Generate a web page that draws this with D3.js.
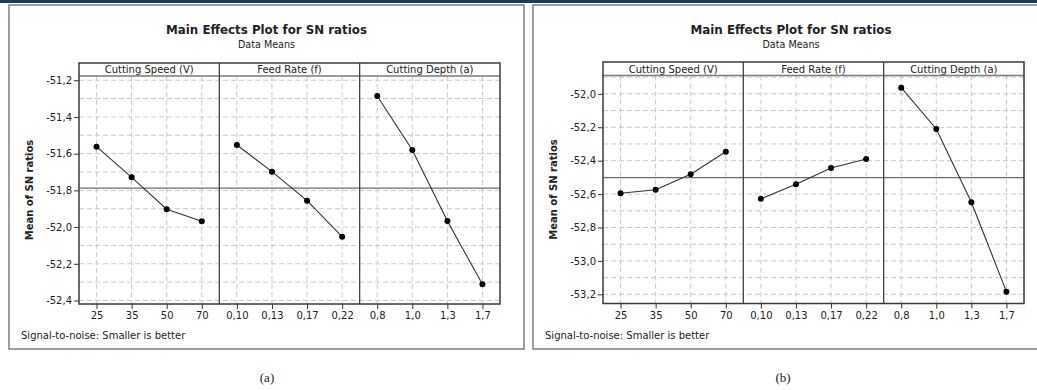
<!DOCTYPE html>
<html><head><meta charset="utf-8">
<script src="https://cdn.jsdelivr.net/npm/d3@7"></script>
<style>
body{margin:0;background:#fff;}
svg{display:block;}
text{font-family:"DejaVu Sans",Verdana,sans-serif;fill:#222;}
</style></head>
<body><svg id="c" width="1037" height="390"></svg>
<script>
// ---------- data ----------
const factors = ["Cutting Speed (V)", "Feed Rate (f)", "Cutting Depth (a)"];
const levelsSpeed = ["25", "35", "50", "70"];
const levelsFeed = ["0,10", "0,13", "0,17", "0,22"];
const levelsDepth = ["0,8", "1,0", "1,3", "1,7"];

// (a)
const snA_speed = [-51.562, -51.729, -51.903, -51.968];
const snA_feed  = [-51.553, -51.698, -51.856, -52.052];
const snA_depth = [-51.286, -51.580, -51.967, -52.312];
const meanA = -51.788;
const yTicksA = [-51.2, -51.4, -51.6, -51.8, -52.0, -52.2, -52.4];
const yGridA  = [-51.2, -51.3, -51.4, -51.5, -51.6, -51.7, -51.8, -51.9, -52.0, -52.1, -52.2, -52.3, -52.4];

// (b)
const snB_speed = [-52.595, -52.574, -52.481, -52.346];
const snB_feed  = [-52.628, -52.541, -52.444, -52.390];
const snB_depth = [-51.963, -52.210, -52.649, -53.184];
const meanB = -52.502;
const yTicksB = [-52.0, -52.2, -52.4, -52.6, -52.8, -53.0, -53.2];
const yGridB  = [-51.9, -52.0, -52.1, -52.2, -52.3, -52.4, -52.5, -52.6, -52.7, -52.8, -52.9, -53.0, -53.1, -53.2];

const titleText = "Main Effects Plot for SN ratios";
const subtitleText = "Data Means";
const yLabelText = "Mean of SN ratios";
const noteText = "Signal-to-noise: Smaller is better";

// ---------- drawing ----------
const svg = d3.select("#c");
svg.append("rect").attr("x",0).attr("y",0).attr("width",1037).attr("height",3).attr("fill","#1d3a5c");

const fmt = v => d3.format(".1f")(v).replace(".", ",").replace("−","-");

function fit(sel, w){
  const n = sel.node();
  const fs = parseFloat(sel.attr("font-size"));
  const len = n.getComputedTextLength();
  if (len > 0) sel.attr("font-size", (fs * w / len).toFixed(2));
}

function drawPanel(cfg){
  const g = svg.append("g");
  // frame
  g.append("rect").attr("x",cfg.fx).attr("y",cfg.fy).attr("width",cfg.fw).attr("height",cfg.fh)
    .attr("fill","#fff").attr("stroke","#6a6a6a").attr("stroke-width",1.3);
  const tcx = cfg.tcx;
  const t = g.append("text").attr("x",tcx).attr("y",34).attr("text-anchor","middle")
    .attr("font-size",12).attr("font-weight","bold").attr("fill","#111").text(titleText);
  fit(t, 201);
  g.append("text").attr("x",tcx).attr("y",48).attr("text-anchor","middle")
    .attr("font-size",9.6).attr("fill","#333").text(subtitleText);

  const y = d3.scaleLinear().domain(cfg.domain).range([cfg.bottom, cfg.strip]);
  const pw = (cfg.x1 - cfg.x0) / 3;
  const levelSets = [levelsSpeed, levelsFeed, levelsDepth];

  // horizontal grid
  g.append("g").selectAll("line").data(cfg.grid).join("line")
    .attr("x1",cfg.x0).attr("x2",cfg.x1).attr("y1",d=>y(d)).attr("y2",d=>y(d))
    .attr("stroke","#c9c9c9").attr("stroke-dasharray","5,3").attr("stroke-width",1);

  // y axis
  const ya = d3.axisLeft(y).tickValues(cfg.ticks).tickFormat(fmt).tickSize(5).tickPadding(2);
  const yg = g.append("g").attr("transform",`translate(${cfg.x0},0)`).call(ya);
  yg.select(".domain").remove();
  yg.selectAll("line").attr("stroke","#333");
  yg.selectAll("text").attr("font-size",10).attr("fill","#222")
    .style("font-family","'DejaVu Sans',Verdana,sans-serif");

  // y label
  g.append("text").attr("transform",`translate(${cfg.lx},${(cfg.strip+cfg.bottom)/2}) rotate(-90)`)
    .attr("text-anchor","middle").attr("font-size",10).attr("font-weight","bold").attr("fill","#111")
    .text(yLabelText);

  cfg.series.forEach((vals, i) => {
    const a = cfg.x0 + i*pw, b = a + pw;
    const x = d3.scalePoint().domain(levelSets[i]).range([a, b]).padding(0.5);
    // vertical grid
    g.append("g").selectAll("line").data(levelSets[i]).join("line")
      .attr("x1",d=>x(d)).attr("x2",d=>x(d)).attr("y1",cfg.strip).attr("y2",cfg.bottom)
      .attr("stroke","#c9c9c9").attr("stroke-dasharray","5,3");
    // x axis
    const xa = d3.axisBottom(x).tickSize(5).tickPadding(3);
    const xg = g.append("g").attr("transform",`translate(0,${cfg.bottom})`).call(xa);
    xg.select(".domain").remove();
    xg.selectAll("line").attr("stroke","#333");
    xg.selectAll("text").attr("font-size",10).attr("fill","#222")
      .style("font-family","'DejaVu Sans',Verdana,sans-serif");
    // strip label
    g.append("text").attr("x",(a+b)/2).attr("y",(cfg.top+cfg.strip)/2+3.8).attr("text-anchor","middle")
      .attr("font-size",10).attr("fill","#222").text(factors[i]);
    // mean reference line
    g.append("line").attr("x1",a).attr("x2",b).attr("y1",y(cfg.mean)).attr("y2",y(cfg.mean))
      .attr("stroke","#6e6e6e").attr("stroke-width",1.2);
    // data line
    const line = d3.line().x((d,k)=>x(levelSets[i][k])).y(d=>y(d));
    g.append("path").datum(vals).attr("d",line).attr("fill","none").attr("stroke","#333").attr("stroke-width",1.1);
    g.append("g").selectAll("circle").data(vals).join("circle")
      .attr("cx",(d,k)=>x(levelSets[i][k])).attr("cy",d=>y(d)).attr("r",3).attr("fill","#000");
  });

  // strip bottom and panel dividers
  g.append("line").attr("x1",cfg.x0).attr("x2",cfg.x1).attr("y1",cfg.strip).attr("y2",cfg.strip)
    .attr("stroke","#7a7a7a").attr("stroke-width",1.3);
  [1,2].forEach(k=>{
    g.append("line").attr("x1",cfg.x0+k*pw).attr("x2",cfg.x0+k*pw).attr("y1",cfg.top).attr("y2",cfg.bottom)
      .attr("stroke","#444").attr("stroke-width",1.3);
  });
  g.append("rect").attr("x",cfg.x0).attr("y",cfg.top).attr("width",cfg.x1-cfg.x0).attr("height",cfg.bottom-cfg.top)
    .attr("fill","none").attr("stroke","#3a3a3a").attr("stroke-width",1.5);

  g.append("text").attr("x",cfg.fx+12).attr("y",339).attr("font-size",10).attr("fill","#222").text(noteText);

  svg.append("text").attr("x",cfg.capX).attr("y",382).attr("text-anchor","middle")
    .style("font-family","'Liberation Serif','Times New Roman',serif").attr("font-size",13).attr("fill","#222")
    .text(cfg.cap);
}

drawPanel({fx:9, fy:5, fw:515, fh:344, tcx:266.5, x0:79, x1:500, top:63, strip:76, bottom:304,
  domain:[-52.419,-51.177], ticks:yTicksA, grid:yGridA, lx:33, mean:meanA,
  series:[snA_speed, snA_feed, snA_depth], cap:"(a)", capX:267});
drawPanel({fx:533, fy:5, fw:516, fh:344, tcx:791, x0:603, x1:1024, top:62, strip:75.5, bottom:303.5,
  domain:[-53.255,-51.89], ticks:yTicksB, grid:yGridB, lx:557, mean:meanB,
  series:[snB_speed, snB_feed, snB_depth], cap:"(b)", capX:783});
</script></body></html>
